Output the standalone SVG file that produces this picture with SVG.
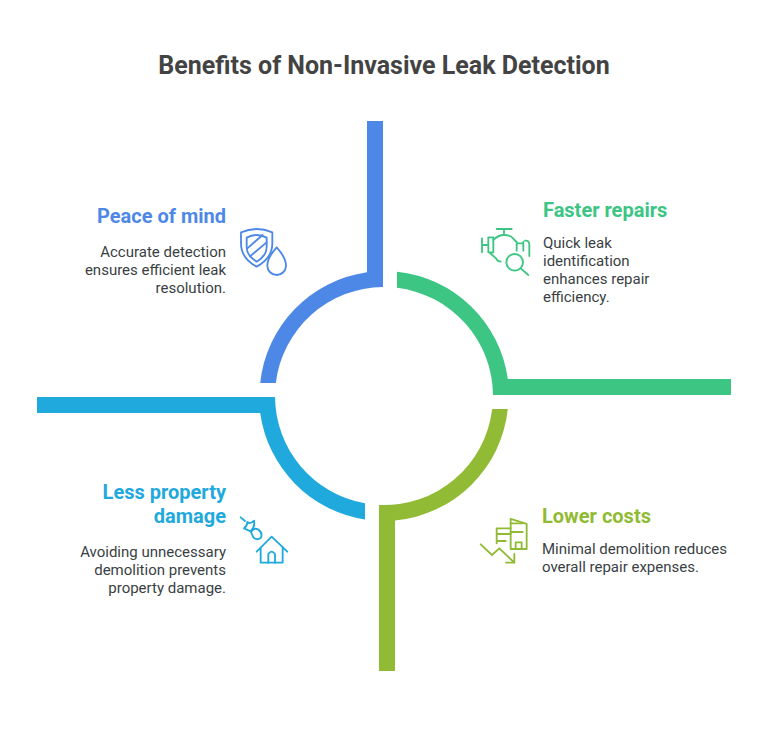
<svg xmlns="http://www.w3.org/2000/svg" width="768" height="732" viewBox="0 0 768 732">
<style>
text{font-family:Roboto,"Liberation Sans",sans-serif}
.t{font-size:25px;font-weight:700;fill:#434343}
.h{font-size:20px;font-weight:700}
.b{font-size:15px;fill:#3a3f44}
.e{text-anchor:end}
.i{fill:none;stroke-width:5.500;stroke-linecap:round;stroke-linejoin:round}
</style>
<rect width="768" height="732" fill="#fff"/>
<text class="t" x="384" y="74" text-anchor="middle">Benefits of Non-Invasive Leak Detection</text>
<g id="connectors">
<path fill="#4e88e7" d="M367 121H383V287A109 109 0 0 0 275.800 383H260.200A125 125 0 0 1 367 272.200Z"/>
<path fill="#3cc583" d="M397 271.700A125 125 0 0 1 507.800 379H731V395H493A109 109 0 0 0 397 287.800Z"/>
<path fill="#91bb34" d="M507.800 409A125 125 0 0 1 395 520.500V671H379V505A109 109 0 0 0 492.200 409Z"/>
<path fill="#1fa9dc" d="M37 397H275A109 109 0 0 0 365 503.300V519.500A125 125 0 0 1 260.200 413H37Z"/>
</g>
<g id="peace-of-mind">
<text class="h e" x="226" y="223" fill="#4e88e7">Peace of mind</text>
<text class="b e" x="226" y="257">Accurate detection</text>
<text class="b e" x="226" y="275">ensures efficient leak</text>
<text class="b e" x="226" y="293">resolution.</text>
<g class="i" stroke="#4e88e7" transform="translate(230 215) scale(.3333)">
<path d="M33 52Q80 32 127 52V85Q127 130 80 155Q33 130 33 85Z"/>
<path d="M50 68Q80 52 110 68V95Q110 122 80 140Q50 122 50 95Z"/>
<path d="M52 100L98 60M60 124L110 82"/>
<path d="M140 97Q168 128 168 152A28 28 0 0 1 112 152Q112 128 140 97Z"/>
</g>
</g>
<g id="faster-repairs">
<text class="h" x="543" y="217" fill="#3cc583">Faster repairs</text>
<text class="b" x="543" y="248">Quick leak</text>
<text class="b" x="543" y="266">identification</text>
<text class="b" x="543" y="284">enhances repair</text>
<text class="b" x="543" y="302">efficiency.</text>
<g class="i" stroke="#3cc583" transform="translate(470 220) scale(.3333)">
<path d="M80 27H125M102 27V45M36 55V97M36 75H55M55 52V97H70V52H55M60 99L78 115Q82 124 92 125"/>
<path d="M70 60Q84 45 102 45Q122 45 130 56L138 65M140 65V92M140 70H160M160 65V92M165 62Q178 60 178 75V108"/>
<circle cx="134" cy="127" r="25"/>
<path d="M152 145L175 165"/>
</g>
</g>
<g id="lower-costs">
<text class="h" x="542" y="523" fill="#91bb34">Lower costs</text>
<text class="b" x="542" y="554">Minimal demolition reduces</text>
<text class="b" x="542" y="572">overall repair expenses.</text>
<g class="i" stroke="#91bb34" transform="translate(470 510) scale(.3333)">
<path d="M122 27L170 42V117H122Z"/>
<path d="M122 55H80V100M80 72H122M80 93H107M122 40H158M122 66H158"/>
<path d="M137 117V97H155V117"/>
<path d="M32 103L66 135L88 115L133 158M133 132V158H108"/>
</g>
</g>
<g id="less-property-damage">
<text class="h e" x="226" y="499" fill="#1fa9dc">Less property</text>
<text class="h e" x="226" y="523" fill="#1fa9dc">damage</text>
<text class="b e" x="226" y="557">Avoiding unnecessary</text>
<text class="b e" x="226" y="575">demolition prevents</text>
<text class="b e" x="226" y="593">property damage.</text>
<g class="i" stroke="#1fa9dc" transform="translate(230 510) scale(.3333)">
<path d="M32 22L45 33M52 36Q60 44 72 32Q76 50 62 64L42 55Q52 48 52 36Z"/>
<path d="M63 66Q70 52 84 58Q100 70 92 84Q80 92 70 82Z"/>
<path d="M80 125L125 80L172 125M92 113V158H158V113"/>
<path d="M115 158V132Q125 118 135 132V158"/>
</g>
</g>
</svg>
